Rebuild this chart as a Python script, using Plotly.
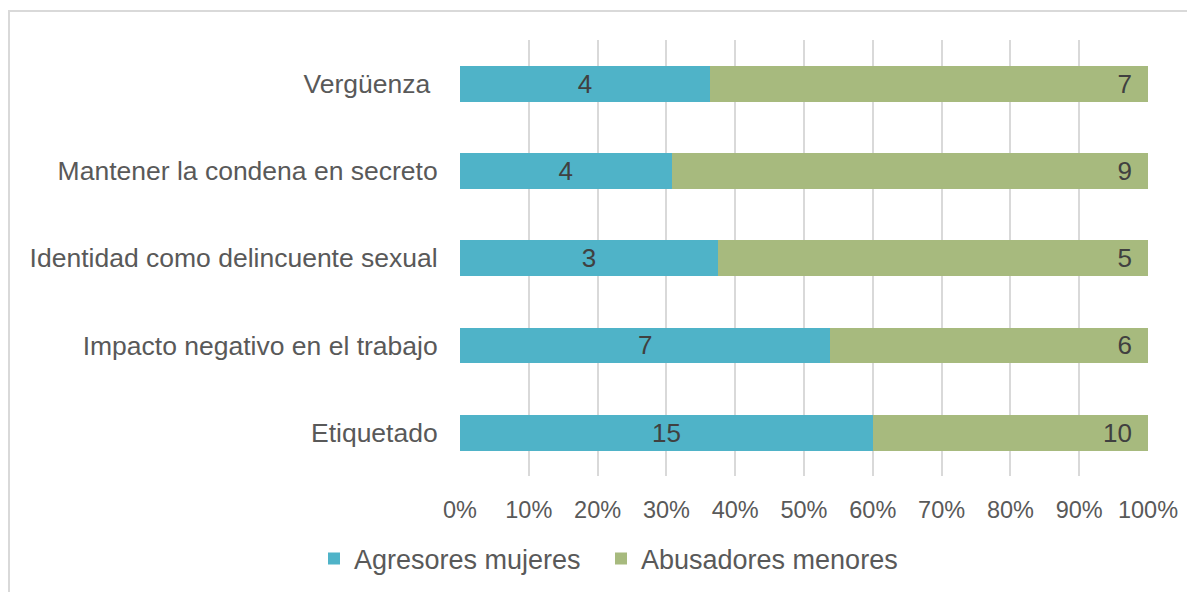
import plotly.graph_objects as go

categories = ["Etiquetado", "Impacto negativo en el trabajo", "Identidad como delincuente sexual",
              "Mantener la condena en secreto", "Vergüenza\u00a0"]
agresores_mujeres = [15, 7, 3, 4, 4]
abusadores_menores = [10, 6, 5, 9, 7]
tick_vals = [0, 10, 20, 30, 40, 50, 60, 70, 80, 90, 100]
tick_text = [f"{v}%" for v in tick_vals]

FONT = "Liberation Sans, Arial"
W, H = 1187, 584          # page body has an 8px margin
L, R, T, B = 452, 47, 32, 114
PW, PH = W - L - R, H - T - B

fig = go.Figure()
fig.add_trace(go.Bar(
    y=categories, x=agresores_mujeres, orientation="h", name="Agresores mujeres",
    marker=dict(color="#4FB3C8", line=dict(width=0)),
    text=[str(v) for v in agresores_mujeres], textposition="inside", insidetextanchor="middle",
    textangle=0, constraintext="none",
    textfont=dict(color="#404040", size=26, family=FONT), legend="legend",
))
fig.add_trace(go.Bar(
    y=categories, x=abusadores_menores, orientation="h", name="Abusadores menores",
    marker=dict(color="#A7BA7E", line=dict(width=0)),
    text=[str(v) + "\u2002" for v in abusadores_menores], textposition="inside",
    insidetextanchor="end", textangle=0, constraintext="none",
    textfont=dict(color="#404040", size=26, family=FONT), legend="legend2",
))

def px_x(p):   # figure pixel -> paper
    return (p - L) / PW

def px_y(p):
    return (T + PH - p) / PH

legend_style = dict(orientation="h", xref="container", yref="container", y=0.0565,
                    xanchor="left", yanchor="middle",
                    font=dict(size=27, color="#595959", family=FONT),
                    itemwidth=30, bgcolor="rgba(0,0,0,0)")

fig.update_layout(
    barmode="stack", barnorm="percent", bargap=0.59,
    width=W, height=H,
    margin=dict(l=L, r=R, t=T, b=B),
    paper_bgcolor="white", plot_bgcolor="white",
    font=dict(family=FONT, color="#595959", size=24),
    uniformtext=dict(minsize=24, mode="show"),
    xaxis=dict(range=[0, 100], tickvals=tick_vals, ticktext=tick_text,
               showgrid=True, gridcolor="#D9D9D9", gridwidth=1.5,
               zeroline=False, showline=False, ticks="outside", ticklen=12,
               tickcolor="rgba(0,0,0,0)",
               tickfont=dict(size=23.5, color="#595959", family=FONT)),
    yaxis=dict(showgrid=False, showline=False, ticks="outside", ticklen=16,
               tickcolor="rgba(0,0,0,0)",
               tickfont=dict(size=26.5, color="#595959", family=FONT)),
    legend=dict(x=306 / W, **legend_style),
    legend2=dict(x=593 / W, **legend_style),
    showlegend=True,
)
fig.add_shape(type="rect", xref="paper", yref="paper",
              x0=px_x(1), x1=px_x(1200), y0=px_y(600), y1=px_y(3),
              line=dict(color="#D9D9D9", width=2), fillcolor="rgba(0,0,0,0)", layer="below")

fig.write_html("out.html")
